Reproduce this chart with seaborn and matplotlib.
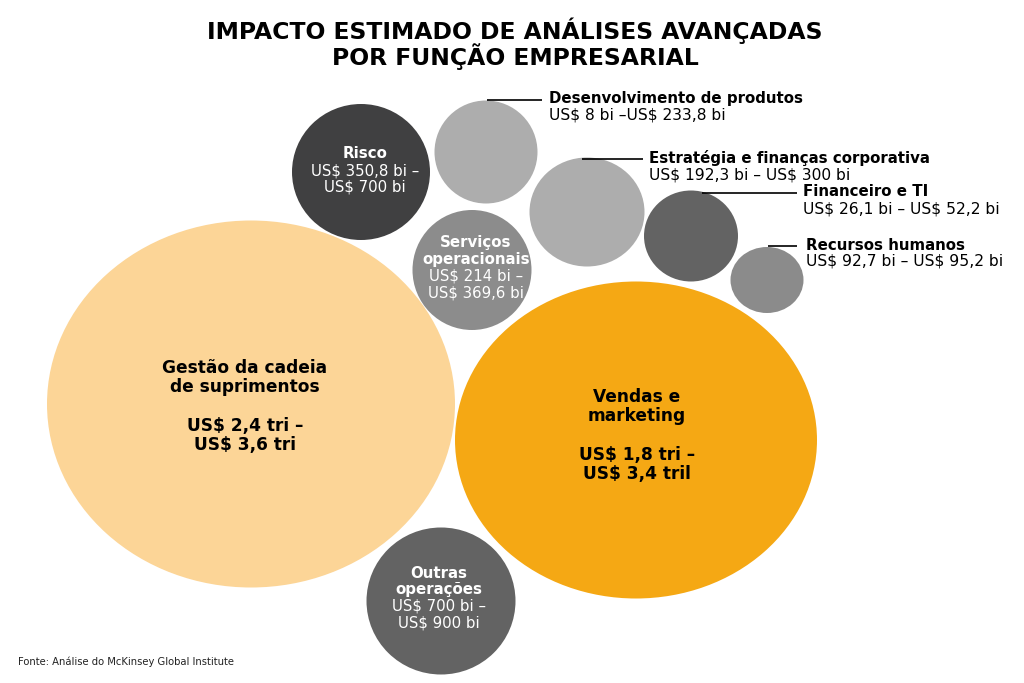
import matplotlib
matplotlib.use("Agg")
import matplotlib.pyplot as plt
from matplotlib.patches import Ellipse
import seaborn as sns

# --- data -------------------------------------------------------------
funcoes = [
    "Gestão da cadeia\nde suprimentos",
    "Vendas e\nmarketing",
    "Outras\noperações",
    "Risco",
    "Serviços\noperacionais",
    "Desenvolvimento de produtos",
    "Estratégia e finanças corporativa",
    "Financeiro e TI",
    "Recursos humanos",
]
impacto_min = [2.4, 1.8, 700, 350.8, 214, 8, 192.3, 26.1, 92.7]
impacto_max = [3.6, 3.4, 900, 700, 369.6, 233.8, 300, 52.2, 95.2]
unid_min = ["tri", "tri", "bi", "bi", "bi", "bi", "bi", "bi", "bi"]
unid_max = ["tri", "tril", "bi", "bi", "bi", "bi", "bi", "bi", "bi"]

# --- layout (pixels of the 1024x683 canvas) ----------------------------
cx = [251, 636, 441, 361, 472, 486, 587, 691, 767]
cy = [404, 440, 601, 172, 270, 152, 212, 236, 280]
largura = [408, 362, 149, 138, 119, 103, 115, 94, 73]
altura = [367, 317, 147, 136, 120, 103, 109, 91, 66]
cores = ["#FCD597", "#F5A814", "#636363", "#404041", "#8C8C8C",
         "#ADADAD", "#ADADAD", "#636363", "#8B8B8B"]

# text anchors inside bubbles (x, first line y)
txt_x = [245, 637, 439, 365, 476]
txt_y = [368, 397, 573, 154, 243]

# outside labels for the small bubbles
lab_x = [549, 649, 803, 806]
lab_y = [99, 158, 192, 245]
linha_x0 = [487, 582, 702, 768]
linha_x1 = [542, 643, 797, 797]
sep = [" –", " – ", " – ", " – "]


def fmt(v, u):
    s = ("%g" % v).replace(".", ",")
    return "US$ %s %s" % (s, u)


sns.set_theme(style="white")
plt.rcParams["font.family"] = ["DejaVu Sans"]
plt.rcParams["text.parse_math"] = False

fig = plt.figure(figsize=(10.24, 6.83), dpi=100)
ax = fig.add_axes([0, 0, 1, 1])
ax.set_xlim(0, 1024)
ax.set_ylim(683, 0)
ax.axis("off")

for i in range(len(funcoes)):
    ax.add_patch(Ellipse((cx[i], cy[i]), largura[i], altura[i],
                         facecolor=cores[i], edgecolor="none"))

px = 0.72  # points per pixel

# big bubbles: black text, blank line between name and range
for i in [0, 1]:
    linhas = funcoes[i].split("\n")
    faixa = [fmt(impacto_min[i], unid_min[i]) + " –", fmt(impacto_max[i], unid_max[i])]
    y = txt_y[i]
    for t in linhas:
        ax.text(txt_x[i], y, t, ha="center", va="center", fontsize=17 * px,
                fontweight="bold", color="black")
        y += 19
    y += 20
    for t in faixa:
        ax.text(txt_x[i], y, t, ha="center", va="center", fontsize=17 * px,
                fontweight="semibold", color="black")
        y += 19

# mid bubbles: white text inside
for i in [2, 3, 4]:
    linhas = funcoes[i].split("\n")
    faixa = [fmt(impacto_min[i], unid_min[i]) + " –", fmt(impacto_max[i], unid_max[i])]
    y = txt_y[i]
    for t in linhas:
        ax.text(txt_x[i], y, t, ha="center", va="center", fontsize=15 * px,
                fontweight="bold", color="white")
        y += 16.5
    for t in faixa:
        ax.text(txt_x[i], y, t, ha="center", va="center", fontsize=15 * px,
                color="white")
        y += 16.5

# small bubbles: labels outside with leader lines
for k, i in enumerate([5, 6, 7, 8]):
    ax.plot([linha_x0[k], linha_x1[k]], [lab_y[k] + 1, lab_y[k] + 1],
            color="black", lw=1.2, solid_capstyle="butt")
    ax.text(lab_x[k], lab_y[k], funcoes[i], ha="left", va="center",
            fontsize=15 * px, fontweight="bold", color="black")
    ax.text(lab_x[k], lab_y[k] + 16.5, fmt(impacto_min[i], unid_min[i]) + sep[k]
            + fmt(impacto_max[i], unid_max[i]), ha="left", va="center",
            fontsize=15.5 * px, color="black")

titulo = ["IMPACTO ESTIMADO DE ANÁLISES AVANÇADAS", "POR FUNÇÃO EMPRESARIAL"]
for t, y in zip(titulo, [31, 57]):
    ax.text(515, y, t, ha="center", va="center", fontsize=23.5 * px,
            fontweight="heavy", color="black")

ax.text(18, 662, "Fonte: Análise do McKinsey Global Institute", ha="left",
        va="center", fontsize=10 * px, color="#222222")

fig.savefig("out.png", dpi=100, facecolor="white")
